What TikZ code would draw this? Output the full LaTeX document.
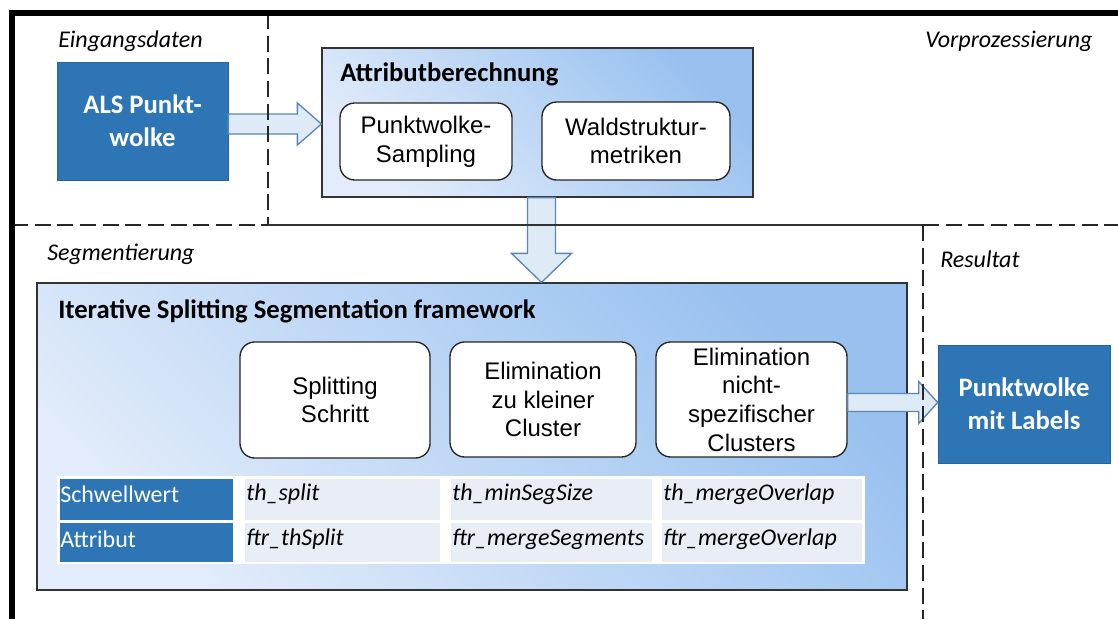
\documentclass[tikz,border=0pt]{standalone}
\usepackage{fontspec}
\setmainfont{Carlito}
\newfontfamily\arialf{Liberation Sans}
\usetikzlibrary{calc,fit}
\definecolor{darkblue}{HTML}{2E75B6}
\definecolor{gradtop}{RGB}{152,193,240}
\definecolor{gradbot}{RGB}{226,236,250}
\definecolor{arrowfill}{HTML}{DEEBF7}
\definecolor{arrowdraw}{HTML}{5A86B4}
\definecolor{cellfill}{RGB}{233,237,246}
\tikzset{
 frame/.style={line width=4.5pt},
 sepline/.style={line width=1.1pt, dash pattern=on 12pt off 5pt, black!85},
 lbl/.style={font=\fontsize{18}{21}\selectfont\itshape, anchor=west, inner sep=0},
 bluebox/.style={fill=darkblue, draw=darkblue!85!black, line width=0.5pt, inner sep=0},
 bluetext/.style={text=white, font=\fontsize{20}{25}\selectfont\bfseries, align=center, inner sep=0},
 gradbox/.style={draw=black!80, line width=0.9pt, inner sep=0, top color=gradtop, bottom color=gradbot, shading angle=-45},
 procbox/.style={draw=black!85, fill=white, line width=1pt, rounded corners=11pt, inner sep=0},
 proctext/.style={inner sep=0, align=center, font=\arialf\fontsize{18}{21.5}\selectfont},
 blockarrow/.style={fill=arrowfill, draw=arrowdraw, line width=1pt, line join=miter},
 titletext/.style={font=\fontsize{20}{24}\selectfont\bfseries, anchor=west, inner sep=0},
 hcell/.style={fill=darkblue, inner sep=0},
 cell/.style={fill=cellfill, inner sep=0},
 htext/.style={text=white, font=\fontsize{18}{21}\selectfont, anchor=west, inner sep=0},
 ctext/.style={font=\fontsize{18}{21}\selectfont\itshape, anchor=west, inner sep=0},
}
\begin{document}
\begin{tikzpicture}[x=0.75pt,y=-0.75pt]
\useasboundingbox (0,0) rectangle (1118,619);
\fill[white] (0,0) rectangle (1118,619);

% labels
\node[lbl] (lin) at (58,41) {Eingangsdaten};
\node[lbl] (lvor) at (925,41) {Vorprozessierung};
\node[lbl] (lseg) at (47,254) {Segmentierung};
\node[lbl] (lres) at (940,259) {Resultat};

% input
\node[bluebox, fit={(57,62) (228,180)}] (als) {};
\node[bluetext] (alst) at (als.center) {ALS Punkt-\\wolke};

% preprocessing
\node[gradbox, fit={(322,48) (753,197)}] (attr) {};
\node[titletext] (attrt) at (340,74) {Attributberechnung};
\node[procbox, fit={(340,103) (512,180)}] (pws) {};
\node[proctext] (pwst) at (pws.center) {Punktwolke-\\Sampling};
\node[procbox, fit={(542,102) (730,180)}] (wsm) {};
\node[proctext] (wsmt) at (wsm.center) {Waldstruktur-\\metriken};

% segmentation
\node[gradbox, fit={(37,283) (907,590)}] (iss) {};
\node[titletext] (isst) at (58,311) {Iterative Splitting Segmentation framework};
\node[procbox, fit={(240,342) (430,458)}] (split) {};
\node[proctext] (splitt) at (split.center) {Splitting\\Schritt};
\node[procbox, fit={(450,342) (636,457)}] (elim1) {};
\node[proctext] (elim1t) at (elim1.center) {Elimination\\zu kleiner\\Cluster};
\node[procbox, fit={(656,342) (847,457)}] (elim2) {};
\node[proctext] (elim2t) at (elim2.center) {Elimination\\nicht-\\spezifischer\\Clusters};

% result
\node[bluebox, fit={(938,345) (1110,463)}] (res) {};
\node[bluetext] (rest) at (res.center) {Punktwolke\\mit Labels};

% table
\fill[white] (57,476) rectangle (865,564);
\node[hcell, fit={(60,479) (233,520)}] (c11) {};
\node[hcell, fit={(60,523) (233,562)}] (c21) {};
\node[cell, fit={(245,479) (440,520)}] (c12) {};
\node[cell, fit={(245,523) (440,562)}] (c22) {};
\node[cell, fit={(451,479) (652,520)}] (c13) {};
\node[cell, fit={(451,523) (652,562)}] (c23) {};
\node[cell, fit={(662,479) (862,520)}] (c14) {};
\node[cell, fit={(662,523) (862,562)}] (c24) {};
\node[htext] (t11) at (60,494) {Schwellwert};
\node[htext] (t21) at (60,539) {Attribut};
\node[ctext] (t12) at (246,494) {th\_split};
\node[ctext] (t22) at (246,539) {ftr\_thSplit};
\node[ctext] (t13) at (452,494) {th\_minSegSize};
\node[ctext] (t23) at (452,539) {ftr\_mergeSegments};
\node[ctext] (t14) at (663,494) {th\_mergeOverlap};
\node[ctext] (t24) at (663,539) {ftr\_mergeOverlap};

% block arrows
\coordinate (a1s) at ($(als.east)+(0,3)$);
\draw[blockarrow] ($(a1s)+(0,-10)$) -- ($(a1s -| attr.west)+(-24,-10)$) -- ($(a1s -| attr.west)+(-24,-21)$) -- (a1s -| attr.west) -- ($(a1s -| attr.west)+(-24,21)$) -- ($(a1s -| attr.west)+(-24,10)$) -- ($(a1s)+(0,10)$) -- cycle;
\coordinate (a2s) at ($(attr.south)+(4,0)$);
\draw[blockarrow] ($(a2s)+(-14,0)$) -- ($(a2s |- iss.north)+(-14,-29)$) -- ($(a2s |- iss.north)+(-30,-29)$) -- (a2s |- iss.north) -- ($(a2s |- iss.north)+(30,-29)$) -- ($(a2s |- iss.north)+(14,-29)$) -- ($(a2s)+(14,0)$) -- cycle;
\coordinate (a3s) at ($(elim2.east)+(0,3)$);
\draw[blockarrow] ($(a3s)+(0,-9)$) -- ($(a3s -| res.west)+(-19,-9)$) -- ($(a3s -| res.west)+(-19,-21)$) -- (a3s -| res.west) -- ($(a3s -| res.west)+(-19,21)$) -- ($(a3s -| res.west)+(-19,9)$) -- ($(a3s)+(0,9)$) -- cycle;

% separators
\draw[sepline] (268,13) -- (268,225);
\draw[sepline] (12,225) -- (268,225);
\draw[line width=0.9pt, black!80] (268,225) -- (923,225);
\draw[sepline] (923,225) -- (1118,225);
\draw[sepline] (923,225) -- (923,619);

% outer frame
\draw[frame] (12,619) -- (12,13) -- (1118,13);
\end{tikzpicture}
\end{document}
